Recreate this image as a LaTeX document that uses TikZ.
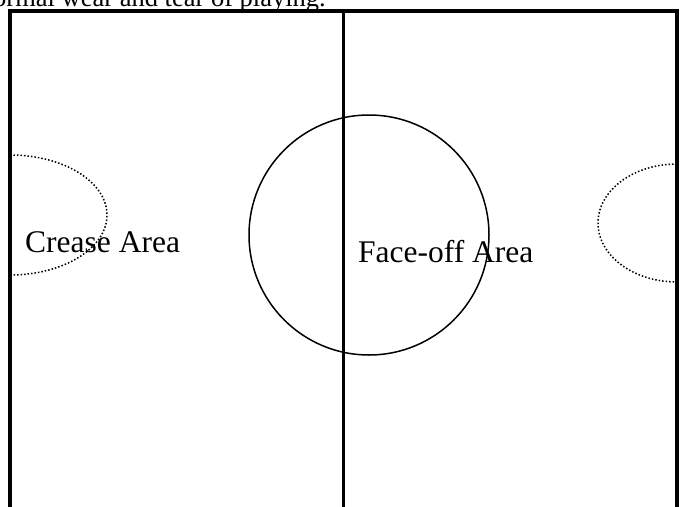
\documentclass[tikz,border=0pt]{standalone}
\usepackage{fontspec}
\setmainfont{Liberation Serif}
\begin{document}
\begin{tikzpicture}[x=1pt, y=-1pt, line cap=butt, line join=miter]
		\pgfmathsetmacro{\rinkL}{10}
		\pgfmathsetmacro{\rinkR}{677}
		\pgfmathsetmacro{\rinkT}{11}
		\pgfmathsetmacro{\midX}{343.5}
		\useasboundingbox (0, 0) rectangle (680, 506);
		% text line cut off above the rink
		\node[anchor=base west, inner sep=0pt, font=\fontsize{26.5}{30}\selectfont] (note) at (-7, 6) {ormal wear and tear of playing.};
		% boards and centre line
		\draw[line width=3.5pt] (\rinkL, 520) -- (\rinkL, \rinkT) -- (\rinkR, \rinkT) -- (\rinkR, 520);
		\draw[line width=3.3pt] (\midX, \rinkT) -- (\midX, 520);
		% face-off circle
		\draw[line width=1.5pt] (369, 235) circle (120pt);
		% crease areas
		\draw[line width=1.5pt, dotted] (\rinkL, 155) arc[start angle=90, end angle=-90, x radius=97pt, y radius=60pt];
		\draw[line width=1.5pt, dotted] (\rinkR, 164) arc[start angle=90, end angle=270, x radius=79pt, y radius=59pt];
		\node[anchor=base west, inner sep=0pt, font=\fontsize{31.5}{36}\selectfont] (crease) at (25, 252) {Crease Area};
		\node[anchor=base west, inner sep=0pt, font=\fontsize{31.5}{36}\selectfont] (faceoff) at (358, 262) {Face-off Area};
\end{tikzpicture}
\end{document}
